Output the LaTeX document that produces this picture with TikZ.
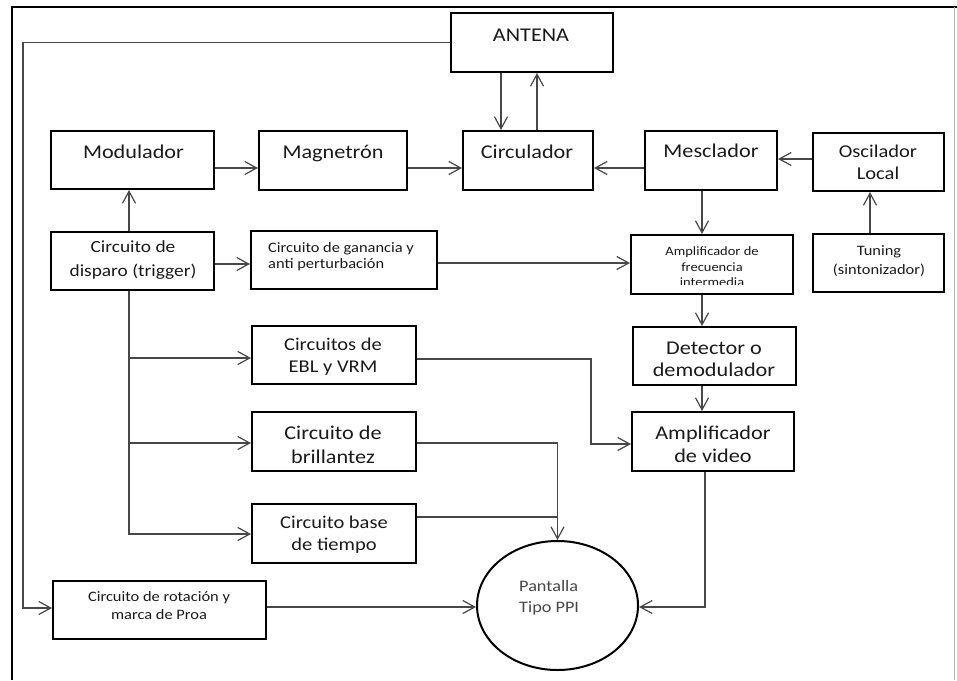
\documentclass[tikz,border=0pt]{standalone}
\usepackage{fontspec}
\setmainfont{Carlito}[FakeStretch=1.14]
\usetikzlibrary{arrows.meta,shapes.geometric}
\definecolor{ink}{HTML}{1A1A1A}
\definecolor{wirecol}{HTML}{474747}
\begin{document}
\begin{tikzpicture}[x=1pt,y=-1pt,
  box/.style={draw=black,line width=2pt,inner sep=0pt},
  conn/.style={draw=wirecol,line width=1.2pt,-{Straight Barb[length=12pt,width=13pt]}},
  plain/.style={draw=wirecol,line width=1.2pt},
  lbl/.style={anchor=base,inner sep=0pt,text=ink},
  lbll/.style={anchor=base west,inner sep=0pt,text=ink},
  fbig/.style={font=\fontsize{19.5}{23}\selectfont},
  fmid/.style={font=\fontsize{18}{21}\selectfont},
  ftrig/.style={font=\fontsize{17}{20}\selectfont},
  fsmall/.style={font=\fontsize{14.4}{17}\selectfont},
  ftiny/.style={font=\fontsize{12.7}{15}\selectfont},
  fppi/.style={font=\fontsize{16}{19}\selectfont}]
\useasboundingbox (0,0) rectangle (957,680);

% page frame
\draw[black,line width=2.3pt] (12,680) -- (12,7) -- (957,7);
\draw[gray!60,line width=1pt] (954,7) -- (954,680);

% blocks
\node[box,minimum width=162,minimum height=59] (ant) at (532,42.5) {};
\node[box,minimum width=163,minimum height=58] (mod) at (132.5,160) {};
\node[box,minimum width=148,minimum height=59] (mag) at (333,160.5) {};
\node[box,minimum width=130,minimum height=59] (circ) at (528,160.5) {};
\node[box,minimum width=132,minimum height=59] (mesc) at (711,160.5) {};
\node[box,minimum width=131,minimum height=58] (osc) at (878.5,162) {};
\node[box,minimum width=163,minimum height=58] (trig) at (132.5,261) {};
\node[box,minimum width=186,minimum height=58] (gan) at (344,260) {};
\node[box,minimum width=162,minimum height=59] (amfi) at (712,264.5) {};
\node[box,minimum width=131,minimum height=58] (tun) at (878.5,263) {};
\node[box,minimum width=164,minimum height=58] (ebl) at (334,355) {};
\node[box,minimum width=163,minimum height=58] (det) at (714.5,356) {};
\node[box,minimum width=164,minimum height=59] (brill) at (334,441.5) {};
\node[box,minimum width=162,minimum height=59] (vid) at (713,441.5) {};
\node[box,minimum width=164,minimum height=59] (base) at (334,533.5) {};
\node[box,minimum width=213,minimum height=58] (rot) at (159.5,610) {};
\node[box,ellipse,minimum width=161,minimum height=129] (ppi) at (557.5,605.5) {};

% block texts
\node[lbl,fbig] (ant-t) at (531,41) {ANTENA};
\node[lbl,fbig] (mod-t) at (133.5,158) {Modulador};
\node[lbl,fbig] (mag-t) at (333,158) {Magnetrón};
\node[lbl,fbig] (circ-t) at (527,158) {Circulador};
\node[lbl,fbig] (mesc-t) at (711,157) {Mesclador};
\node[lbl,fmid] (osc-t1) at (878,157) {Oscilador};
\node[lbl,fmid] (osc-t2) at (878,179) {Local};
\node[lbl,ftrig] (trig-t1) at (133,252.7) {Circuito de};
\node[lbl,ftrig] (trig-t2) at (133,276) {disparo (trigger)};
\node[lbll,fsmall] (gan-t1) at (268,252) {Circuito de ganancia y};
\node[lbll,fsmall] (gan-t2) at (268,268.5) {anti perturbación};
\node[lbl,ftiny] (amfi-t1) at (712,255) {Amplificador de};
\node[lbl,ftiny] (amfi-t2) at (712,271) {frecuencia};
\begin{scope}
  \clip (632,236) rectangle (792,284.5);
  \node[lbl,ftiny] (amfi-t3) at (712,286.5) {intermedia};
\end{scope}
\node[lbl,fsmall] (tun-t1) at (879,255) {Tuning};
\node[lbl,fsmall] (tun-t2) at (879,274) {(sintonizador)};
\node[lbl,fmid] (ebl-t1) at (333,350) {Circuitos de};
\node[lbl,fmid] (ebl-t2) at (333,372.7) {EBL y VRM};
\node[lbl,fbig] (det-t1) at (714,354) {Detector o};
\node[lbl,fbig] (det-t2) at (714,376.7) {demodulador};
\node[lbl,fbig] (brill-t1) at (333,439) {Circuito de};
\node[lbl,fbig] (brill-t2) at (333,463) {brillantez};
\node[lbl,fbig] (vid-t1) at (713,439) {Amplificador};
\node[lbl,fbig] (vid-t2) at (713,462.7) {de video};
\node[lbl,fmid] (base-t1) at (334,528) {Circuito base};
\node[lbl,fmid] (base-t2) at (334,550) {de tiempo};
\node[lbl,fsmall] (rot-t1) at (159,601.7) {Circuito de rotación y};
\node[lbl,fsmall] (rot-t2) at (159,619.3) {marca de Proa};
\node[lbll,fppi,text=black!72] (ppi-t1) at (519,591) {Pantalla};
\node[lbll,fppi,text=black!72] (ppi-t2) at (519,612.7) {Tipo PPI};

% transmit chain
\draw[conn] (mod.east |- 0,168) -- (mag.west |- 0,168);
\draw[conn] (mag.east |- 0,168) -- (circ.west |- 0,168);
\draw[conn] (ant.south -| 501,0) -- (circ.north -| 501,0);
\draw[conn] (circ.north -| 537,0) -- (ant.south -| 537,0);
\draw[conn] (trig.north -| 129,0) -- (mod.south -| 129,0);

% receive chain
\draw[conn] (mesc.west |- 0,168) -- (circ.east |- 0,168);
\draw[conn] (osc.west |- 0,159) -- (mesc.east |- 0,159);
\draw[conn] (tun.north -| 870,0) -- (osc.south -| 870,0);
\draw[conn] (mesc.south -| 702,0) -- (amfi.north -| 702,0);
\draw[conn] (amfi.south -| 702,0) -- (det.north -| 702,0);
\draw[conn] (det.south -| 702,0) -- (vid.north -| 702,0);
\draw[conn] (trig.east |- 0,264) -- (gan.west |- 0,264);
\draw[conn] (gan.east |- 0,263) -- (amfi.west |- 0,263);

% trigger distribution
\coordinate (j1) at (129,358);
\coordinate (j2) at (129,443);
\draw[conn] (trig.south -| 129,0) |- (base.west |- 0,534);
\draw[conn] (j1) -- (ebl.west |- 0,358);
\draw[conn] (j2) -- (brill.west |- 0,443);

% display inputs
\draw[conn] (ebl.east |- 0,359) -| (591,444) -- (vid.west |- 0,444);
\draw[conn] (brill.east |- 0,443) -| (ppi.north);
\coordinate (jb) at (ppi.north |- 0,517);
\draw[plain] (base.east |- 0,517) -- (jb);
\draw[conn] (vid.south -| 705,0) |- (ppi.east |- 0,607);
\draw[conn] (rot.east |- 0,607) -- (ppi.west |- 0,607);
\draw[conn] (ant.west) -| (23,608) -- (rot.west |- 0,608);
\end{tikzpicture}
\end{document}
